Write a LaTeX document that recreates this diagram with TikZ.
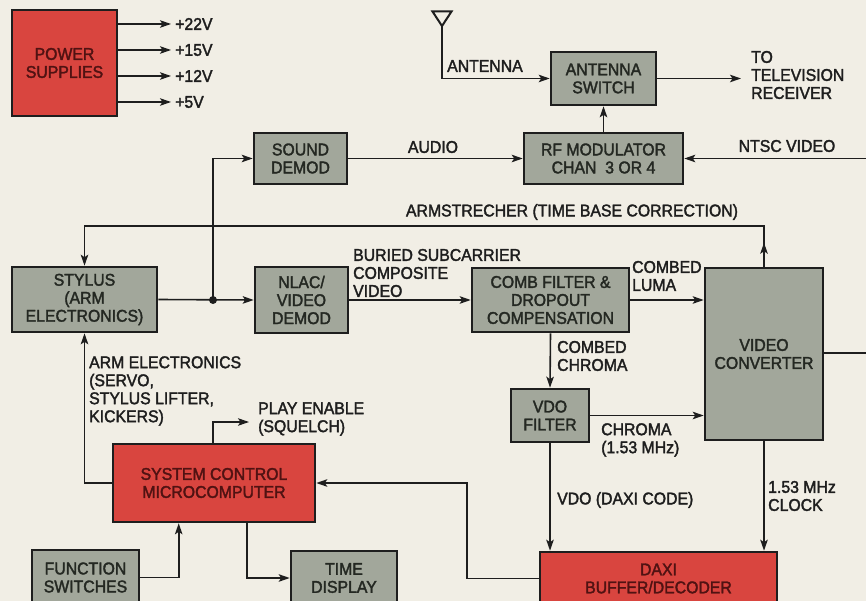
\documentclass[tikz,border=0pt]{standalone}
\usepackage{fontspec}
\setmainfont{Liberation Sans}
\newfontfamily\diagfont{Liberation Sans}[FakeBold=2, FakeStretch=0.93]
\usetikzlibrary{arrows.meta}
\definecolor{bg}{HTML}{F1EEE5}
\definecolor{boxred}{HTML}{D9453F}
\definecolor{boxgray}{HTML}{A2A79B}
\definecolor{ink}{HTML}{1E1E1E}
\definecolor{redink}{HTML}{501212}
\definecolor{grayink}{HTML}{242822}
\tikzset{
  blk/.style={draw=ink, line width=2.6pt, align=center, inner sep=1pt,
    font=\diagfont\fontsize{17}{18}\selectfont},
  gbox/.style={blk, fill=boxgray, text=grayink},
  rbox/.style={blk, fill=boxred, text=redink},
  arr/.style={draw=ink, line width=1.6pt, -{Stealth[length=11pt,width=7.5pt,inset=2.5pt]}},
  ln/.style={draw=ink, line width=1.6pt},
  lbl/.style={align=left, inner sep=0pt, text=ink, font=\diagfont\fontsize{17}{18}\selectfont},
}
\begin{document}
\begin{tikzpicture}[x=1pt,y=-1pt]
\useasboundingbox (0,0) rectangle (866,601);
\clip (0,0) rectangle (866,601);
\fill[bg] (0,0) rectangle (866,601);

% boxes
\node[rbox, minimum width=105pt, minimum height=106pt] (ps) at (64.5,63) {POWER\\SUPPLIES};
\node[gbox, minimum width=105pt, minimum height=53pt] (antsw) at (603.5,78.5) {ANTENNA\\SWITCH};
\node[gbox, minimum width=159pt, minimum height=51pt] (rfmod) at (603.5,158.5) {RF MODULATOR\\CHAN\ \ 3 OR 4};
\node[gbox, minimum width=93pt, minimum height=51pt] (sound) at (300.5,158.5) {SOUND\\DEMOD};
\node[gbox, minimum width=145pt, minimum height=65pt] (stylus) at (84.5,299.5) {STYLUS\\(ARM\\ELECTRONICS)};
\node[gbox, minimum width=93pt, minimum height=66pt] (nlac) at (301.5,300) {NLAC/\\VIDEO\\DEMOD};
\node[gbox, minimum width=157pt, minimum height=64pt] (comb) at (550.5,300) {COMB FILTER \&\\DROPOUT\\COMPENSATION};
\node[gbox, minimum width=118pt, minimum height=172pt] (vc) at (764,354) {VIDEO\\CONVERTER};
\node[gbox, minimum width=78pt, minimum height=53pt] (vdo) at (550,415.5) {VDO\\FILTER};
\node[rbox, minimum width=237pt, minimum height=53pt] (daxi) at (658.5,578.5) {DAXI\\BUFFER/DECODER};
\node[rbox, minimum width=202pt, minimum height=78pt] (sc) at (214,483) {SYSTEM CONTROL\\MICROCOMPUTER};
\node[gbox, minimum width=107pt, minimum height=55pt] (fs) at (85.5,577.5) {FUNCTION\\SWITCHES};
\node[gbox, minimum width=106pt, minimum height=54pt] (td) at (344,578) {TIME\\DISPLAY};

% power supply outputs
\coordinate (v22) at (171,24);
\coordinate (v15) at (171,50);
\coordinate (v12) at (171,76);
\coordinate (v5) at (171,102);
\draw[arr] (ps.east |- v22) -- (v22);
\draw[arr] (ps.east |- v15) -- (v15);
\draw[arr] (ps.east |- v12) -- (v12);
\draw[arr] (ps.east |- v5) -- (v5);
\node[lbl, anchor=west] (l22) at (175,24) {+22V};
\node[lbl, anchor=west] (l15) at (175,50) {+15V};
\node[lbl, anchor=west] (l12) at (175,76) {+12V};
\node[lbl, anchor=west] (l5) at (175,102) {+5V};

% antenna
\draw[ink, line width=2pt, line join=miter] (432.5,11.5) -- (451.5,11.5) -- (442,26) -- cycle;
\coordinate (ant) at (442,26);
\draw[arr] (ant) |- (antsw.west);
\node[lbl, anchor=west] (lant) at (447,66) {ANTENNA};

\coordinate (tv) at (741,78.5);
\draw[arr] (antsw.east) -- (tv);
\node[lbl, anchor=west] (ltv) at (751,75) {TO\\TELEVISION\\RECEIVER};

\draw[arr] (rfmod.north) -- (antsw.south);
\draw[arr] (sound.east) -- (rfmod.west);
\node[lbl] (laudio) at (433,147) {AUDIO};
\coordinate (ntsc) at (866,158.5);
\draw[arr] (ntsc) -- (rfmod.east);
\node[lbl] (lntsc) at (787,146) {NTSC VIDEO};

% stylus to nlac, junction to sound demod
\coordinate (j) at (213,300);
\draw[arr] (stylus.east) -- (nlac.west);
\fill[ink] (j) circle (4pt);
\draw[arr] (j) |- (sound.west);

% armstrecher
\coordinate (armR) at (764,226);
\coordinate (armL) at (84.5,226);
\draw[arr] (vc.north) -- ++(0,-24);
\draw[arr] (vc.north) -- (armR) -- (armL) -- (stylus.north);
\node[lbl] (larm) at (572,212) {ARMSTRECHER (TIME BASE CORRECTION)};

% video path
\draw[arr] (nlac.east) -- (comb.west);
\node[lbl, anchor=west] (lburied) at (353,273) {BURIED SUBCARRIER\\COMPOSITE\\VIDEO};
\draw[arr] (comb.east) -- (comb.east -| vc.west);
\node[lbl, anchor=west] (lluma) at (632,276) {COMBED\\LUMA};
\draw[arr] (comb.south) -- (vdo.north);
\node[lbl, anchor=west] (lcchroma) at (557,356) {COMBED\\CHROMA};
\draw[arr] (vdo.east) -- (vdo.east -| vc.west);
\node[lbl, anchor=west] (lchroma) at (601,440) {CHROMA\\(1.53 MHz)};
\draw[arr] (vdo.south) -- (vdo.south |- daxi.north);
\node[lbl, anchor=west] (lvdo) at (557,500) {VDO (DAXI CODE)};
\draw[arr] (vc.south) -- (vc.south |- daxi.north);
\node[lbl, anchor=west] (lclock) at (768,496) {1.53 MHz\\CLOCK};
\coordinate (vcout) at (866,353);
\draw[ln] (vc.east |- vcout) -- (vcout);

% daxi to system control
\coordinate (dx) at (467,483);
\draw[arr] (daxi.west) -| (dx) -- (sc.east);

% system control to stylus
\draw[arr] (sc.west) -| (stylus.south);
\node[lbl, anchor=west] (larmel) at (89,391) {ARM ELECTRONICS\\(SERVO,\\STYLUS LIFTER,\\KICKERS)};

% play enable
\coordinate (pe) at (249,422);
\draw[arr] (sc.north -| 213,0) |- (pe);
\node[lbl, anchor=west] (lplay) at (258,419) {PLAY ENABLE\\(SQUELCH)};

% function switches and time display
\draw[arr] (fs.east) -| ([xshift=67pt]sc.south west);
\draw[arr] ([xshift=135pt]sc.south west) |- (td.west);
\end{tikzpicture}
\end{document}
